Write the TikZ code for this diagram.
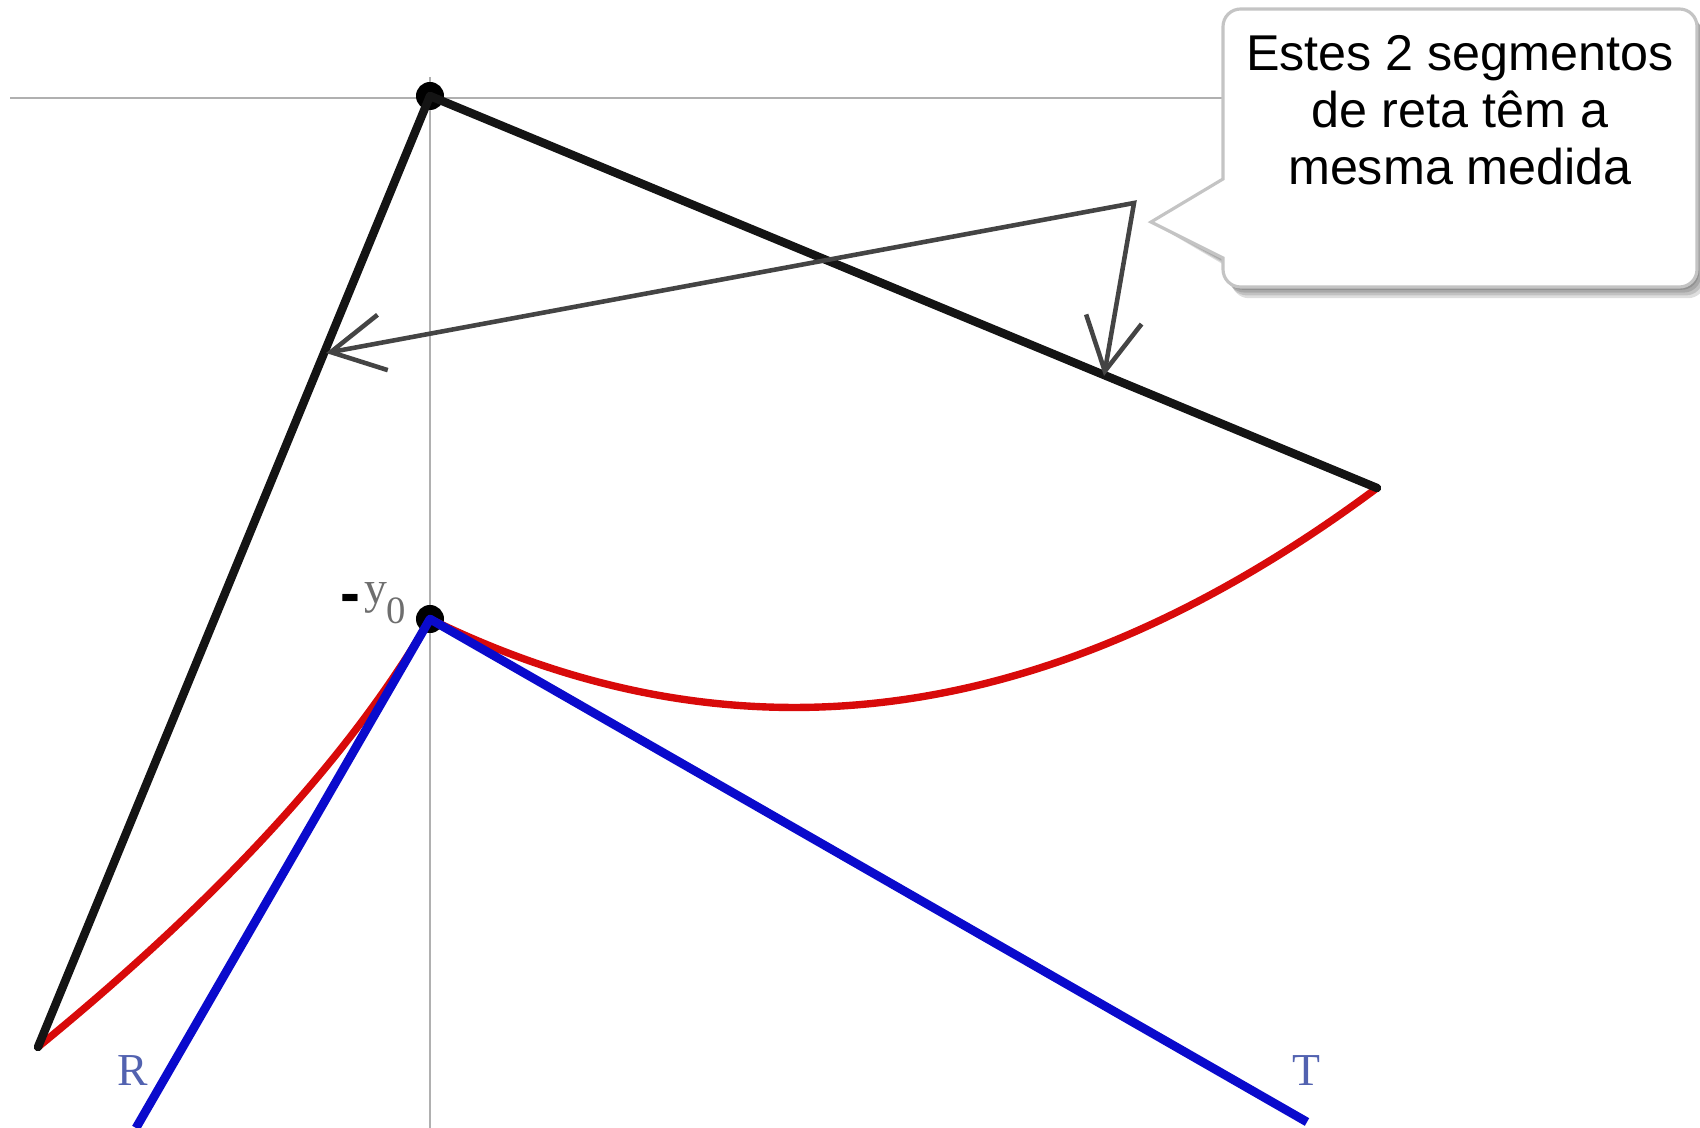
\documentclass[tikz,border=0pt]{standalone}
\usepackage{fontspec}
\setmainfont{Liberation Serif}
\newfontfamily\bubblefont{Liberation Sans}
\usepackage{tikz}
\usetikzlibrary{positioning,arrows.meta}
\definecolor{axisgray}{HTML}{B0B0B0}
\definecolor{barblack}{HTML}{141414}
\definecolor{rayblue}{HTML}{0A0ACC}
\definecolor{curvered}{HTML}{D80A0A}
\definecolor{arrowgray}{HTML}{444444}
\definecolor{labelblue}{HTML}{5262B0}
\definecolor{labelgray}{HTML}{6E6E6E}
\definecolor{bubbleedge}{HTML}{C4C4C4}
\tikzset{
  axisline/.style={draw=axisgray, line width=0.6pt},
  thickbar/.style={draw=barblack, line width=2.4pt, line cap=round, line join=round},
  blueray/.style={draw=rayblue, line width=2.5pt, line join=round},
  redcurve/.style={draw=curvered, line width=2.1pt},
  dot/.style={circle, fill=black, inner sep=0pt, minimum size=0.28cm},
  measure/.style={{Straight Barb[length=15pt,width=16pt]}-{Straight Barb[length=15pt,width=16pt]},
                  draw=arrowgray, line width=1.3pt, line cap=round},
  bubbleshadow/.style={fill=black, opacity=0.13},
  bubble/.style={fill=white, draw=bubbleedge, line width=0.9pt},
  bubbletext/.style={font=\bubblefont\fontsize{14.3}{16.2}\selectfont, align=center, inner sep=0pt},
  raylabel/.style={font=\fontsize{13}{13}\selectfont, text=labelblue, inner sep=0pt},
}
\newcommand\bubblepath{(ptr) -- (1223,179) [rounded corners=5pt] -- (1223,9) -- (1697,9)
  -- (1697,287) -- (1223,287) [sharp corners] -- (1223,258) -- cycle}

\begin{document}
\begin{tikzpicture}[x=0.01cm, y=-0.01cm]
  \useasboundingbox (0,0) rectangle (1700,1128);
  % end points
  \coordinate (axl) at (10,98);
  \coordinate (axr) at (1300,98);
  \coordinate (axt) at (430,77);
  \coordinate (axb) at (430,1128);
  \coordinate (left) at (38,1047);
  \coordinate (right) at (1377,488);
  \coordinate (rend) at (136,1128);
  \coordinate (tend) at (1307,1122);
  \coordinate (ltip) at (326,353);
  \coordinate (dtip) at (1104,376);
  \coordinate (kink) at (1134,203);
  \coordinate (ptr) at (1151,222);

  \draw[axisline] (axl) -- (axr);
  \draw[axisline] (axt) -- (axb);
  \node[dot] (top) at (430,96) {};
  \node[dot] (vertex) at (430,619) {};

  \draw[redcurve] (left) .. controls (175,935) and (335,784) .. (vertex.center);
  \draw[redcurve] (vertex.center) .. controls (741,771) and (1056,727) .. (right);
  \draw[thickbar] (left) -- (top.center) -- (right);
  \draw[blueray] (rend) -- (vertex.center) -- (tend);
  \draw[measure] (ltip) -- (kink) -- (dtip);

  % callout
  \foreach \s in {1,...,4}
    \path[bubbleshadow, xshift=\s*0.6pt, yshift=-\s*0.8pt] \bubblepath;
  \path[bubble] \bubblepath;
  \node[bubbletext, anchor=north] (note) at (1460,35) {Estes 2 segmentos\\de reta têm a\\mesma medida};

  \node[raylabel, anchor=base] (rlab) at (133,1085) {R};
  \node[raylabel, anchor=base] (tlab) at (1306,1085) {T};
  \node[anchor=base west, inner sep=0pt] (ylab) at (340,604)
    {\raisebox{-2.6pt}{\bubblefont\bfseries\fontsize{17}{17}\selectfont -}\hspace{1pt}{\color{labelgray}\fontsize{13}{13}\selectfont y\raisebox{-5.5pt}{\fontsize{11}{11}\selectfont 0}}};
\end{tikzpicture}
\end{document}
